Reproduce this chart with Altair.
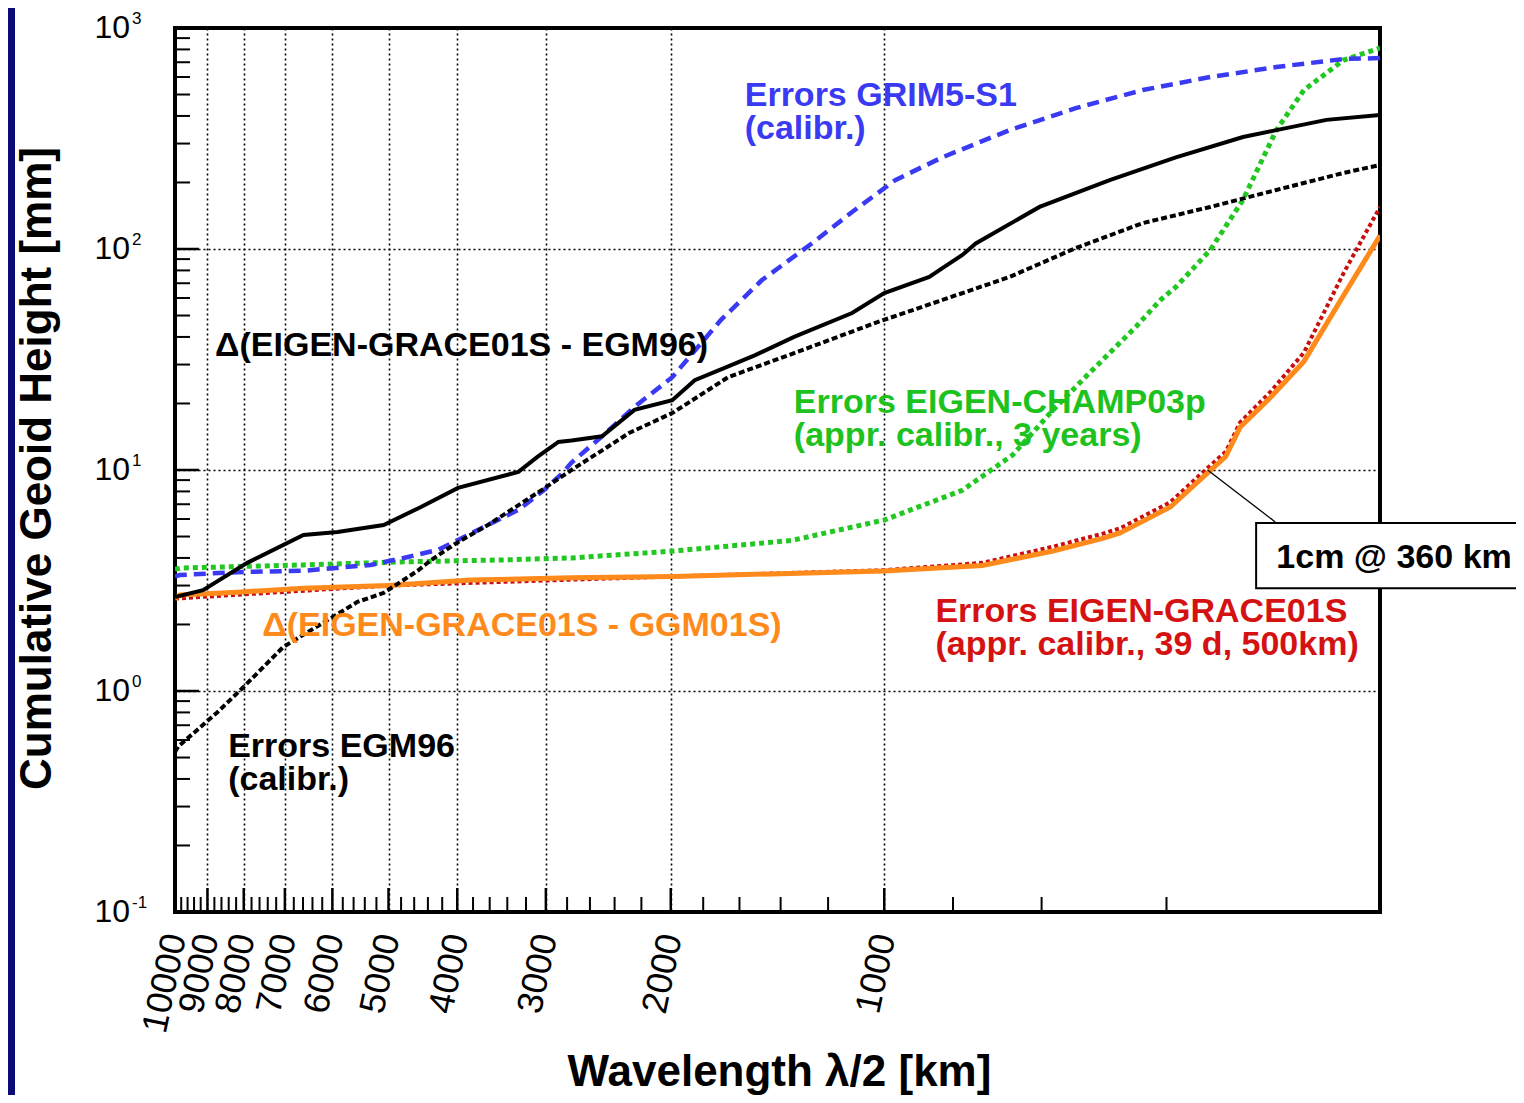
import altair as alt
import pandas as pd

# ---------------- data (wavelength lambda/2 in km, cumulative geoid height in mm) ----------------
GRIM_KM = [10000, 9840, 8170, 6590, 5300, 4760, 4260, 3990, 3620, 3280, 3020, 2850, 2760, 2500,
           2250, 1990, 1700, 1490, 1260, 1110, 965, 828, 666, 537, 432, 347, 280, 225, 200]
GRIM_MM = [3.3, 3.35, 3.45, 3.5, 3.72, 4.0, 4.35, 4.82, 5.64, 6.6, 8.1, 9.6, 10.8, 14.2,
           19.3, 26.3, 47.7, 72, 107, 147, 205, 260, 345, 434, 524, 600, 666, 724, 731]

EGMDIFF_KM = [10000, 9130, 7910, 6590, 5900, 5080, 4500, 3990, 3280, 3080, 2880, 2760, 2500, 2250,
              1990, 1850, 1640, 1520, 1340, 1110, 1000, 864, 828, 776, 743, 604, 481, 388, 312,
              280, 238, 200]
EGMDIFF_MM = [2.66, 2.86, 3.8, 5.08, 5.24, 5.64, 6.8, 8.3, 9.8, 11.5, 13.4, 13.6, 14.2, 18.7,
              20.7, 25.5, 29.9, 33.1, 40, 51.3, 63.2, 74.7, 82, 94, 106, 155, 205, 260, 321,
              345, 384, 404]

EGM_KM = [10000, 9900, 8720, 8010, 7040, 5530, 5080, 4760, 4550, 4360, 4040, 3620, 3080, 2760,
          2290, 1990, 1660, 1340, 1020, 828, 666, 537, 432, 347, 280, 225, 200]
EGM_MM = [0.53, 0.56, 0.80, 1.04, 1.58, 2.53, 2.78, 3.18, 3.5, 3.9, 4.6, 5.64, 7.9, 10,
          14.7, 18.1, 26.3, 33.8, 46.8, 58.8, 74.7, 101, 131, 155, 185, 221, 240]

CHAMP_KM = [10000, 9840, 6590, 4760, 3440, 2760, 1980, 1350, 1000, 776, 659, 578, 520, 442,
            408, 388, 347, 312, 280, 256, 225, 200]
CHAMP_MM = [3.55, 3.6, 3.72, 3.84, 3.92, 4.0, 4.3, 4.8, 5.94, 8.1, 11.7, 18.7, 26.4, 44.4,
            58.8, 67.3, 99, 167, 345, 524, 716, 812]

GGM_KM = [10000, 9840, 8170, 6590, 5000, 3830, 2760, 1980, 1000, 727, 578, 492, 465, 395,
          355, 330, 315, 285, 256, 230, 200]
GGM_MM = [2.62, 2.72, 2.8, 2.92, 3.0, 3.18, 3.25, 3.3, 3.49, 3.7, 4.3, 4.9, 5.19, 6.8,
          9.3, 11.5, 15.6, 21.4, 31, 55, 115]

GRACE_KM = [10000, 5000, 1980, 1000, 727, 578, 492, 465, 395, 355, 330, 315, 285, 256, 225, 200]
GRACE_MM = [2.62, 3.0, 3.3, 3.52, 3.8, 4.5, 5.15, 5.45, 7.15, 9.8, 12.1, 16.4, 22.7, 34, 78, 155]

# axis ticks / labels
X_MAJOR = [10000, 9000, 8000, 7000, 6000, 5000, 4000, 3000, 2000, 1000]
X_MINOR = [v for v in range(400, 10000, 200) if v % 1000 != 0]
Y_MAJOR = [0.1, 1, 10, 100, 1000]
Y_BASE = ["10", "10", "10", "10", "10"]
Y_EXP = ["-1", "0", "1", "2", "3"]
Y_MINOR = [m * d for d in (0.1, 1, 10, 100) for m in range(2, 10)]

# curve annotations
ANN_TEXT = ["Errors GRIM5-S1", "(calibr.)",
            "Δ(EIGEN-GRACE01S - EGM96)",
            "Errors EIGEN-CHAMP03p", "(appr. calibr., 3 years)",
            "Δ(EIGEN-GRACE01S - GGM01S)",
            "Errors EIGEN-GRACE01S", "(appr. calibr., 39 d, 500km)",
            "Errors EGM96", "(calibr.)"]
ANN_KM = [1573, 1573, 8780, 1341, 1341, 7533, 847, 847, 8414, 8414]
ANN_MM = [443.6, 314.6, 32.8, 18.1, 12.84, 1.774, 2.05, 1.455, 0.503, 0.356]
ANN_COLOR = ["#3a3af2", "#3a3af2", "#000000", "#1ec21e", "#1ec21e", "#ff8a1c",
             "#d41212", "#d41212", "#000000", "#000000"]

# "1cm @ 360 km" callout
BOX_TEXT = ["1cm @ 360 km"]
BOX_TEXT_KM = [280]
BOX_TEXT_MM = [3.6]
BOX_KM = [299]
BOX_KM2 = [121]
BOX_MM = [5.76]
BOX_MM2 = [2.92]
LEAD_KM = [350]
LEAD_KM2 = [281]
LEAD_MM = [10.0]
LEAD_MM2 = [5.82]

# ---------------- chart ----------------
W, H = 1205, 884
xscale = alt.Scale(type="log", domain=[200, 10000], reverse=True, nice=False)
yscale = alt.Scale(type="log", domain=[0.1, 1000], nice=False)

GRID = dict(grid=True, gridColor="#000000", gridDash=[2, 3], gridWidth=1.6, gridOpacity=1)

x_axis = alt.Axis(
    values=X_MAJOR, format="d", labelAngle=282, labelAlign="right", labelBaseline="middle",
    labelFont="Liberation Sans", labelFontSize=36, labelColor="black", labelPadding=22,
    labelOverlap=False, labelFlush=False, labelBound=False, ticks=False, domain=False,
    title="Wavelength λ/2 [km]", titleFont="Liberation Sans", titleFontSize=44,
    titleFontWeight="bold", titleColor="black", titleX=604, titleY=173, titleAlign="center",
    titleBaseline="alphabetic", titleAngle=0, **GRID)
y_axis = alt.Axis(
    values=Y_MAJOR, labels=False, ticks=False, domain=False,
    title="Cumulative Geoid Height [mm]", titleFont="Liberation Sans", titleFontSize=44,
    titleFontWeight="bold", titleColor="black", titleX=-125, titleY=440, titleAngle=270,
    titleAlign="center", titleBaseline="alphabetic", **GRID)


def X(field="km"):
    return alt.X(f"{field}:Q", scale=xscale, axis=x_axis)


def Y(field="mm"):
    return alt.Y(f"{field}:Q", scale=yscale, axis=y_axis)


def series(km, mm, color, width, dash=None):
    kw = dict(color=color, strokeWidth=width, clip=True)
    if dash:
        kw["strokeDash"] = dash
    return alt.Chart(pd.DataFrame({"km": km, "mm": mm})).mark_line(**kw).encode(x=X(), y=Y())


navy = alt.Chart(pd.DataFrame({"a": [0]})).mark_rect(color="#0b0b78").encode(
    x=alt.value(-167), x2=alt.value(-160), y=alt.value(-20), y2=alt.value(1080))

base = alt.Chart(pd.DataFrame({"km": EGMDIFF_KM, "mm": EGMDIFF_MM})).mark_point(opacity=0).encode(
    x=X(), y=Y())

xt_major = alt.Chart(pd.DataFrame({"km": X_MAJOR})).mark_rule(color="black", strokeWidth=2.5).encode(
    x=X(), y=alt.value(H), y2=alt.value(H - 24))
xt_minor = alt.Chart(pd.DataFrame({"km": X_MINOR})).mark_rule(color="black", strokeWidth=2).encode(
    x=X(), y=alt.value(H), y2=alt.value(H - 15))
yt_major = alt.Chart(pd.DataFrame({"mm": Y_MAJOR})).mark_rule(color="black", strokeWidth=2.5).encode(
    y=Y(), x=alt.value(0), x2=alt.value(24))
yt_minor = alt.Chart(pd.DataFrame({"mm": Y_MINOR})).mark_rule(color="black", strokeWidth=2).encode(
    y=Y(), x=alt.value(0), x2=alt.value(15))

ylab_df = pd.DataFrame({"mm": Y_MAJOR, "base": Y_BASE, "e": Y_EXP})
ylab = alt.Chart(ylab_df).mark_text(align="right", baseline="middle", font="Liberation Sans",
                                    fontSize=32, color="black").encode(
    y=Y(), x=alt.value(-45), text="base:N")
yexp = alt.Chart(ylab_df).mark_text(align="left", baseline="alphabetic", font="Liberation Sans",
                                    fontSize=17, color="black", dy=-4).encode(
    y=Y(), x=alt.value(-43), text="e:N")

l_green = series(CHAMP_KM, CHAMP_MM, "#22c722", 5, [5, 4])
l_blue = series(GRIM_KM, GRIM_MM, "#3a3af2", 4.5, [12, 7])
l_red = series(GRACE_KM, GRACE_MM, "#c80f0f", 4, [4, 3])
l_orange = series(GGM_KM, GGM_MM, "#ff8a1c", 5)
l_egm = series(EGM_KM, EGM_MM, "#000000", 4, [6, 3])
l_diff = series(EGMDIFF_KM, EGMDIFF_MM, "#000000", 4)

ann = alt.Chart(pd.DataFrame({"km": ANN_KM, "mm": ANN_MM, "t": ANN_TEXT, "c": ANN_COLOR})).mark_text(
    align="left", baseline="alphabetic", font="Liberation Sans", fontSize=34, fontWeight="bold").encode(
    x=X(), y=Y(), text="t:N", color=alt.Color("c:N", scale=None))

lead = alt.Chart(pd.DataFrame({"km": LEAD_KM, "km2": LEAD_KM2, "mm": LEAD_MM, "mm2": LEAD_MM2})).mark_rule(
    color="black", strokeWidth=1.3).encode(x=X(), x2="km2:Q", y=Y(), y2="mm2:Q")
box = alt.Chart(pd.DataFrame({"km": BOX_KM, "km2": BOX_KM2, "mm": BOX_MM, "mm2": BOX_MM2})).mark_rect(
    fill="white", stroke="black", strokeWidth=2).encode(x=X(), x2="km2:Q", y=Y(), y2="mm2:Q")
box_text = alt.Chart(pd.DataFrame({"km": BOX_TEXT_KM, "mm": BOX_TEXT_MM, "t": BOX_TEXT})).mark_text(
    align="left", baseline="alphabetic", font="Liberation Sans", fontSize=34, fontWeight="bold",
    color="black").encode(x=X(), y=Y(), text="t:N")

chart = alt.layer(
    navy, base, xt_major, xt_minor, yt_major, yt_minor, ylab, yexp,
    l_green, l_blue, l_red, l_orange, l_egm, l_diff, ann, lead, box, box_text
).properties(
    width=W, height=H,
    autosize=alt.AutoSizeParams(type="none"),
    padding={"left": 167, "top": 20, "right": 136, "bottom": 183},
    background="white",
).configure_view(stroke="black", strokeWidth=4)

chart.save("out.html", embed_options={"renderer": "svg", "actions": False})
